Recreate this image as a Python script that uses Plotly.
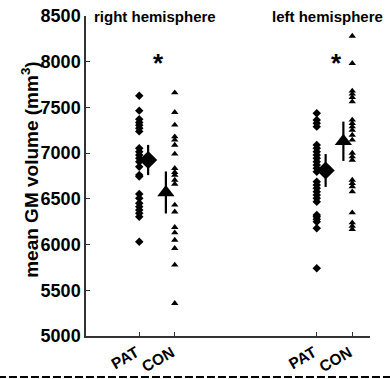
import plotly.graph_objects as go

# ---- data ----
categories = ["PAT", "CON", "PAT", "CON"]
cat_x = [1, 2, 6, 7]
hemispheres = ["right hemisphere", "left hemisphere"]
y_title = "mean GM volume (mm<sup>3</sup>)"

right_pat = [7628, 7465, 7370, 7335, 7305, 7272, 7238, 7053, 7016, 6980, 6943,
             6907, 6852, 6760, 6745, 6553, 6506, 6451, 6415, 6378, 6342, 6305, 6031]
right_con = [7661, 7447, 7308, 7180, 7144, 7089, 6991, 6834, 6790, 6760, 6706,
             6662, 6433, 6359, 6189, 6130, 6050, 5959, 5777, 5358]
left_pat = [7436, 7363, 7326, 7290, 7089, 7053, 7016, 6980, 6943, 6907, 6870,
            6834, 6797, 6688, 6652, 6615, 6578, 6542, 6506, 6469, 6323, 6305,
            6276, 6250, 6178, 5740]
left_con = [8281, 7983, 7680, 7647, 7611, 7563, 7363, 7326, 7290, 7253, 7198,
            7144, 7001, 6961, 6925, 6706, 6670, 6634, 6579, 6349, 6239, 6203, 6167]

group_means = [6925, 6570, 6810, 7130]
group_errs = [165, 230, 180, 215]
y_ticks = [5000, 5500, 6000, 6500, 7000, 7500, 8000, 8500]

FONT = "Liberation Sans"
mean_offset = [0.25, -0.25, 0.25, -0.25]

fig = go.Figure()

groups = [right_pat, right_con, left_pat, left_con]
symbols = ["diamond", "triangle-up", "diamond", "triangle-up"]
for xv, vals, sym in zip(cat_x, groups, symbols):
    fig.add_trace(go.Scatter(
        x=[xv] * len(vals), y=vals, mode="markers",
        marker=dict(symbol=sym, size=6.5, color="black", line=dict(width=0)),
        showlegend=False, hoverinfo="y"))

for xv, off, m, e, sym in zip(cat_x, mean_offset, group_means, group_errs, symbols):
    fig.add_trace(go.Scatter(
        x=[xv + off], y=[m], mode="markers",
        marker=dict(symbol=sym, size=14 if sym == "diamond" else 15, color="black",
                    line=dict(width=0)),
        error_y=dict(type="data", array=[e], symmetric=True, thickness=2.2,
                     width=0, color="black"),
        showlegend=False, hoverinfo="y"))

# hemisphere labels
for xc, txt in zip([1.44, 6.3], hemispheres):
    fig.add_annotation(x=xc, y=1.0, xref="x", yref="paper", text=txt,
                       showarrow=False, yanchor="middle",
                       font=dict(family=FONT, size=15, color="black", weight="bold"))

# significance asterisks
for xc in [1.55, 6.57]:
    fig.add_annotation(x=xc, y=7990, xref="x", yref="y", text="*",
                       showarrow=False, yanchor="middle",
                       font=dict(family=FONT, size=26, color="black", weight="bold"))

# y-axis title
fig.add_annotation(x=-0.2, y=0.52, xref="paper", yref="paper", text=y_title,
                   textangle=-90, showarrow=False, xanchor="center", yanchor="middle",
                   font=dict(family=FONT, size=19, color="black", weight="bold"))

# dashed separator line at the bottom
fig.add_shape(type="line", xref="paper", yref="paper",
              x0=-0.31, x1=1.08, y0=-0.128, y1=-0.128,
              line=dict(color="black", width=2, dash="8px,3px"))

fig.update_layout(
    width=390, height=379,
    margin=dict(l=86, r=20, t=16, b=43, autoexpand=False),
    paper_bgcolor="white", plot_bgcolor="white",
    font=dict(family=FONT, color="black"),
    xaxis=dict(range=[-0.5, 7.5], tickvals=cat_x, ticktext=categories,
               tickangle=-30, ticks="inside", ticklen=4, tickcolor="#333",
               showline=True, linecolor="#333", linewidth=1.5,
               showgrid=False, zeroline=False, automargin=False,
               ticklabelshift=-3,
               tickfont=dict(family=FONT, size=15.5, color="black", weight="bold")),
    yaxis=dict(range=[5000, 8500], tickvals=y_ticks,
               ticks="inside", ticklen=4, tickcolor="#333",
               showline=True, linecolor="#333", linewidth=1.5,
               showgrid=False, zeroline=False, automargin=False,
               tickfont=dict(family=FONT, size=18, color="black", weight="bold")),
)

fig.write_html("out.html",
               config={"displayModeBar": False},
               post_script="document.body.style.margin='0px';document.body.style.overflow='hidden';")
